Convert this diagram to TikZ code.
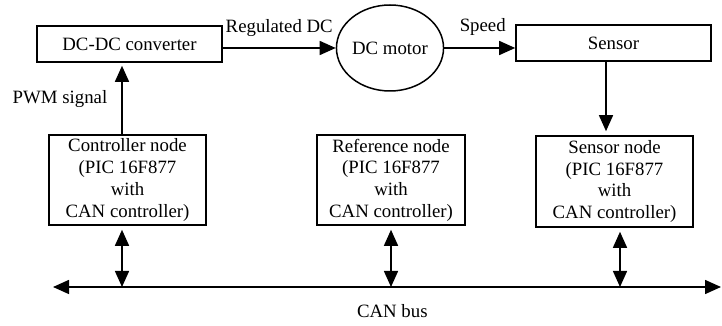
\documentclass[tikz,border=0pt]{standalone}
\usepackage{fontspec}
\setmainfont{Liberation Serif}
\usetikzlibrary{arrows.meta, shapes.geometric}
\begin{document}
\begin{tikzpicture}[x=1pt,y=1pt,
  font=\fontsize{18.8}{21.7}\selectfont,
  box/.style={draw, line width=1.6pt, rectangle, inner sep=0pt, align=center},
  conn/.style={line width=1.5pt, -{Triangle[length=16pt,width=14pt]}},
  biconn/.style={line width=1.5pt, {Triangle[length=16pt,width=14pt]}-{Triangle[length=16pt,width=14pt]}},
  lbl/.style={inner sep=0pt}]
\useasboundingbox (0,0) rectangle (722,326);

\node[box, minimum width=185pt, minimum height=36pt] (dcdc) at (129.5,282) {DC-DC converter};
\node[draw, line width=1.5pt, ellipse, inner sep=0pt, minimum width=94pt, minimum height=86pt] (motor) at (390,278) {DC motor};
\node[box, minimum width=195pt, minimum height=36pt] (sensor) at (613.5,283) {Sensor};

\node[box, minimum width=157pt, minimum height=90pt] (ctrl) at (127.5,146) {Controller node\\(PIC 16F877\\with\\CAN controller)};
\node[box, minimum width=148pt, minimum height=90pt] (ref) at (391,146) {Reference node\\(PIC 16F877\\with\\CAN controller)};
\node[box, minimum width=157pt, minimum height=91pt] (snode) at (614.5,144.5) {Sensor node\\(PIC 16F877\\with\\CAN controller)};

\coordinate (b1) at (122,39);
\coordinate (b2) at (391,39);
\coordinate (b3) at (620,39);
\coordinate (busL) at (53,39);
\coordinate (busR) at (721,39);
\coordinate (sx) at (606,200);

\draw[conn] (dcdc.east |- motor.west) -- (motor.west)
  node[midway, anchor=base, yshift=15pt, lbl] {Regulated DC};
\draw[conn] (motor.east) -- (sensor.west |- motor.east)
  node[midway, anchor=base, yshift=16pt, xshift=3pt, lbl] {Speed};

\draw[conn, shorten >=3pt] (ctrl.north -| b1) -- (dcdc.south -| b1)
  node[pos=0.425, anchor=base east, xshift=-14pt, lbl] {PWM signal};
\draw[conn, shorten >=4pt] (sensor.south -| sx) -- (snode.north -| sx);

\draw[biconn, shorten <=4pt] (ctrl.south -| b1) -- (b1);
\draw[biconn, shorten <=4pt] (ref.south -| b2) -- (b2);
\draw[biconn, shorten <=4pt] (snode.south -| b3) -- (b3);

\draw[biconn] (busL) -- (busR)
  node[pos=0.508, anchor=base, yshift=-31pt, lbl] {CAN bus};
\end{tikzpicture}
\end{document}
